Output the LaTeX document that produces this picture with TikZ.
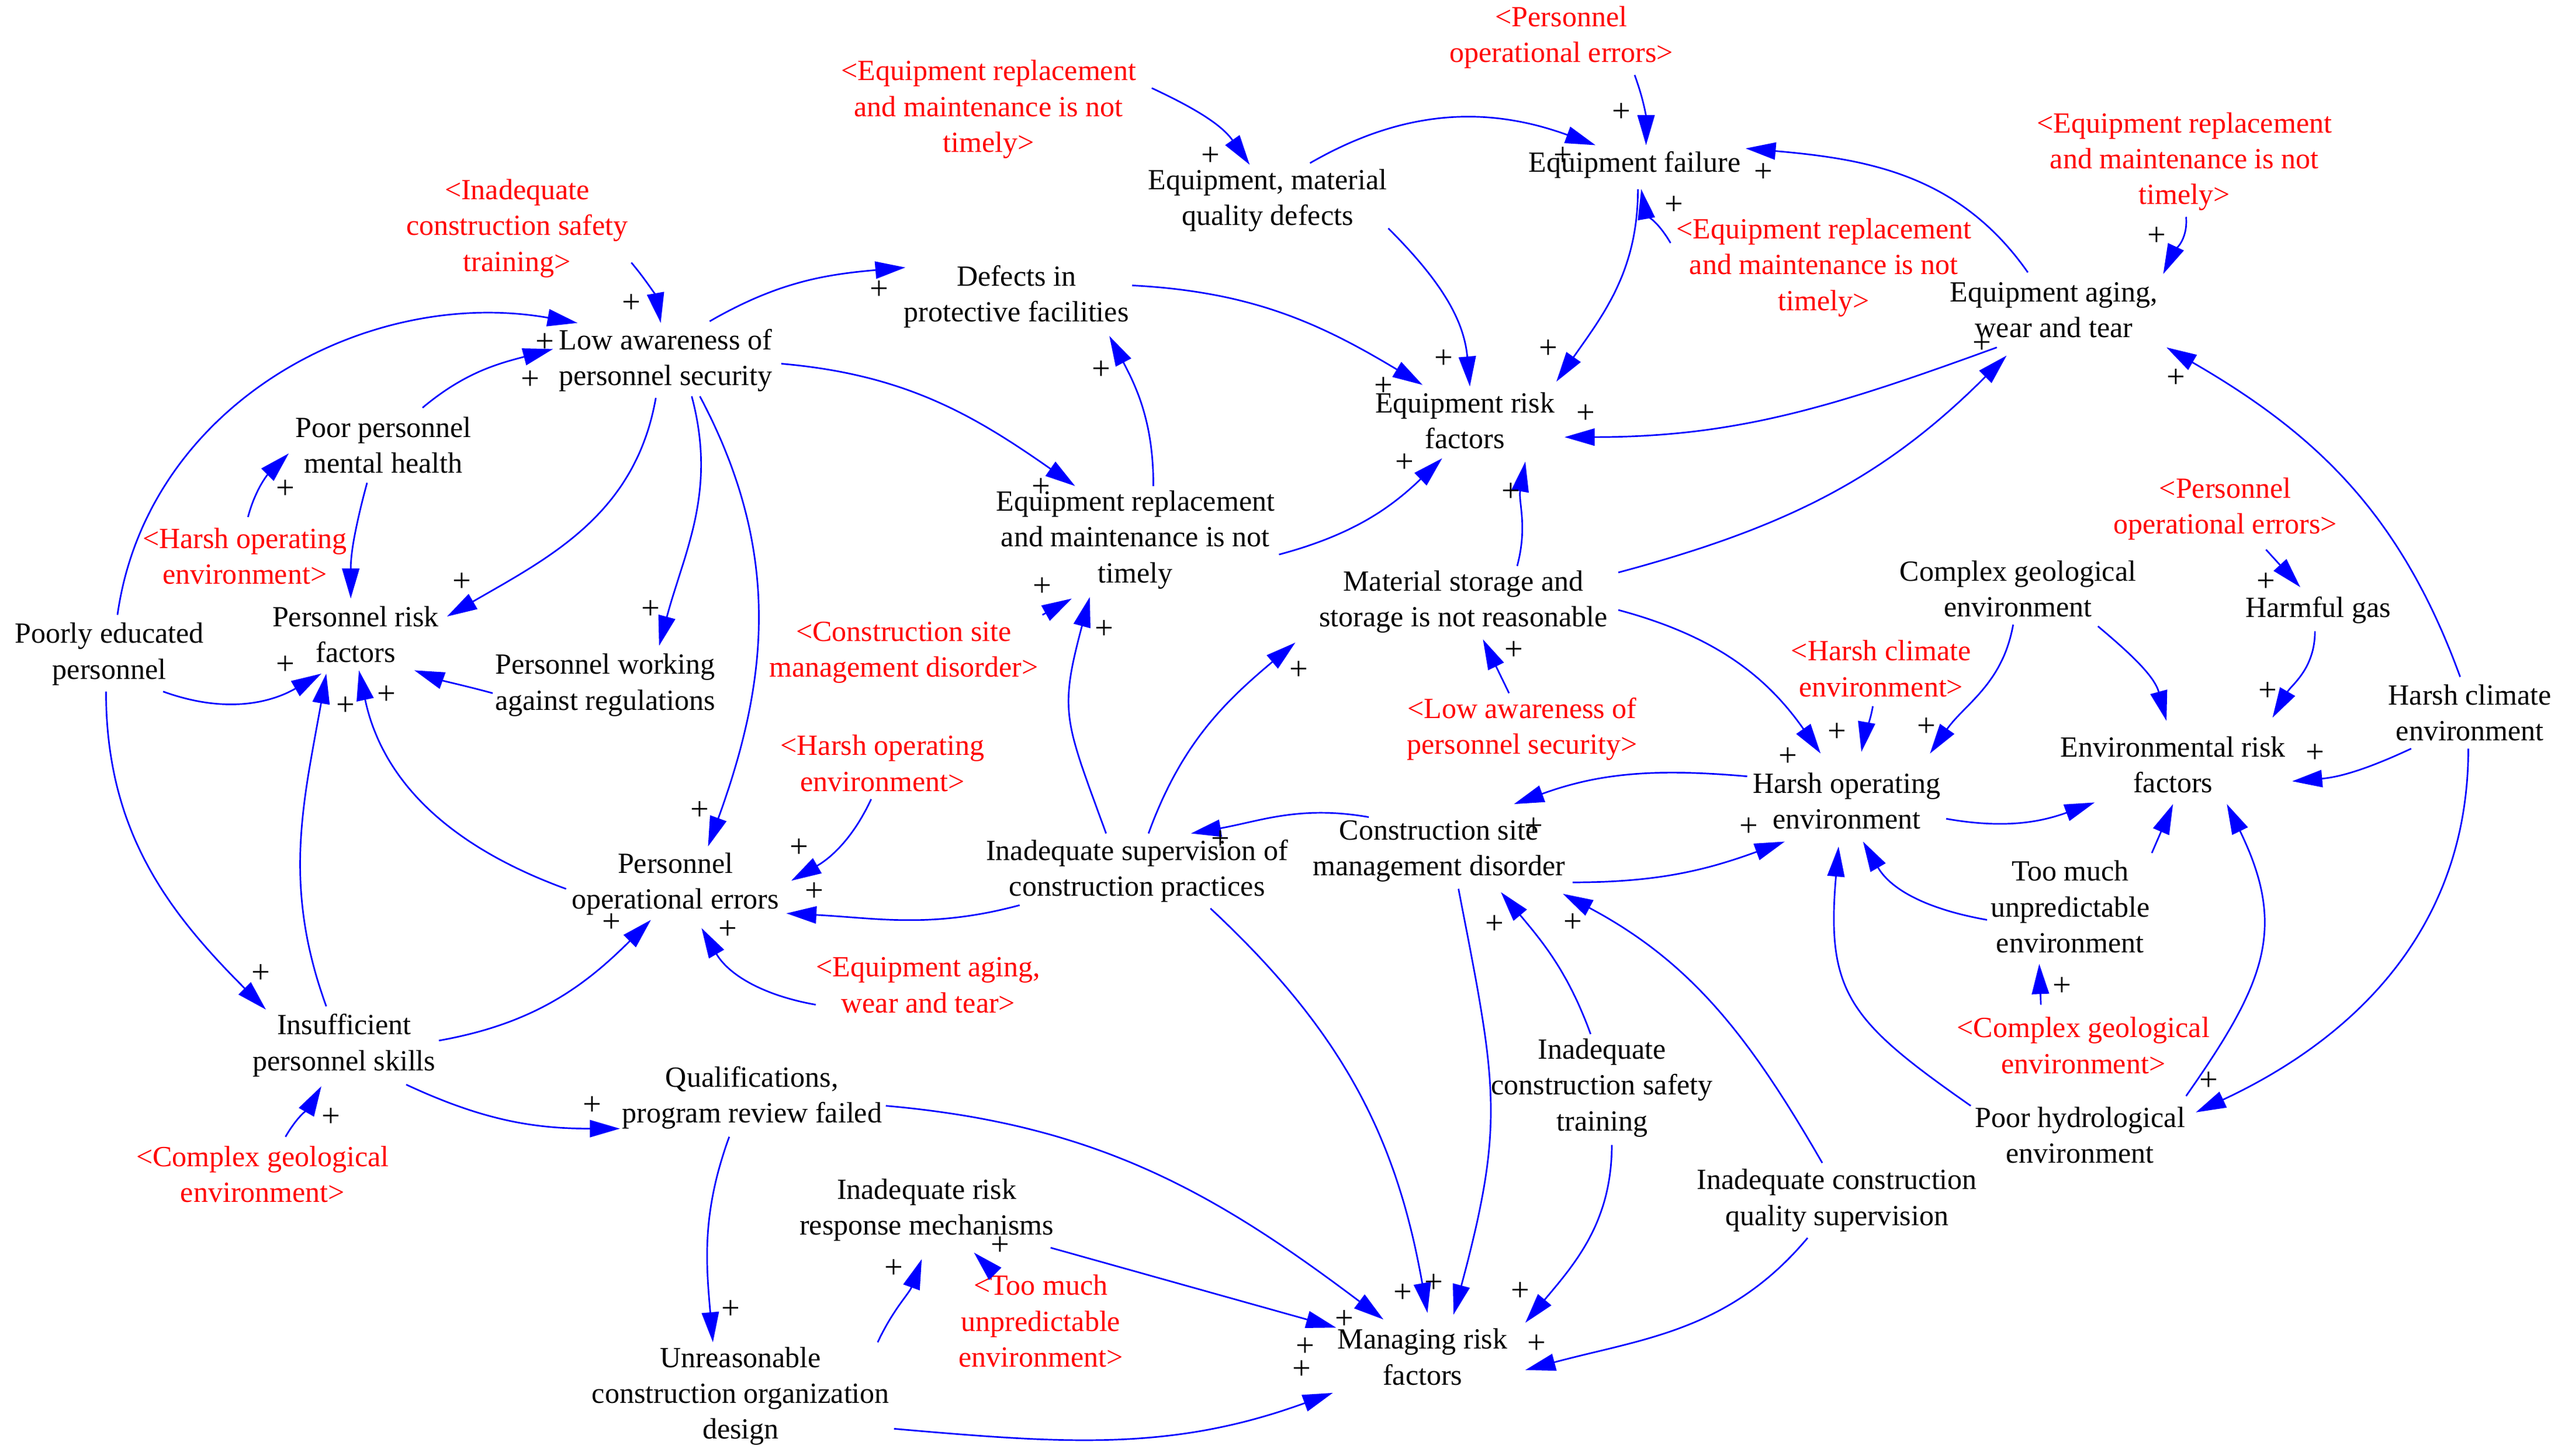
\documentclass[tikz,border=0pt]{standalone}
\usepackage{fontspec}
\setmainfont{Liberation Serif}
\usetikzlibrary{arrows.meta}
\begin{document}
\begin{tikzpicture}[x=0.02cm,y=-0.02cm,
  v/.style={align=center,font=\fontsize{10.2}{12.5}\selectfont,inner sep=0pt,text=black},
  sv/.style={v,text=red},
  pl/.style={font=\fontsize{11.5}{12.5}\selectfont,inner sep=0pt,text=black},
  lnk/.style={draw=blue,line width=0.55pt,-{Triangle[length=10.5pt,width=6pt]}},
]
\useasboundingbox (0,0) rectangle (1568,892.7);
% variables
\node[v] (LAPS) at (408,221) {Low awareness of\\personnel security};
\node[v] (PPMH) at (235,273) {Poor personnel\\mental health};
\node[v] (PRF) at (218,389) {Personnel risk\\factors};
\node[v] (PEP) at (67,401) {Poorly educated\\personnel};
\node[v] (PWAR) at (371,420) {Personnel working\\against regulations};
\node[v] (POE) at (414,542) {Personnel\\operational errors};
\node[v] (IPS) at (211,641) {Insufficient\\personnel skills};
\node[v] (QPR) at (461,673) {Qualifications,\\program review failed};
\node[v] (IRRM) at (568,742) {Inadequate risk\\response mechanisms};
\node[v] (UCOD) at (454,856) {Unreasonable\\construction organization\\design};
\node[v] (MRF) at (872,832) {Managing risk\\factors};
\node[v] (DPF) at (623,182) {Defects in\\protective facilities};
\node[v] (EMQD) at (777,123) {Equipment, material\\quality defects};
\node[v] (EF) at (1002,101) {Equipment failure};
\node[v] (ERF) at (898,258) {Equipment risk\\factors};
\node[v] (ERMNT) at (696,331) {Equipment replacement\\and maintenance is not\\timely};
\node[v] (MSSNR) at (897,369) {Material storage and\\storage is not reasonable};
\node[v] (ISCP) at (697,534) {Inadequate supervision of\\construction practices};
\node[v] (CSMD) at (882,522) {Construction site\\management disorder};
\node[v] (ICST) at (982,667) {Inadequate\\construction safety\\training};
\node[v] (ICQS) at (1126,736) {Inadequate construction\\quality supervision};
\node[v] (EAWT) at (1259,190) {Equipment aging,\\wear and tear};
\node[v] (HOE) at (1132,491) {Harsh operating\\environment};
\node[v] (CGE) at (1237,361) {Complex geological\\environment};
\node[v] (HG) at (1421,374) {Harmful gas};
\node[v] (HCE) at (1514,437) {Harsh climate\\environment};
\node[v] (ENVRF) at (1332,469) {Environmental risk\\factors};
\node[v] (TMUE) at (1269,556) {Too much\\unpredictable\\environment};
\node[v] (PHE) at (1275,696) {Poor hydrological\\environment};
% shadow variables
\node[sv] (R1) at (317,140) {<Inadequate\\construction safety\\training>};
\node[sv] (R2) at (150,341) {<Harsh operating\\environment>};
\node[sv] (R3) at (606,67) {<Equipment replacement\\and maintenance is not\\timely>};
\node[sv] (R4) at (957,23) {<Personnel\\operational errors>};
\node[sv] (R5) at (1118,164) {<Equipment replacement\\and maintenance is not\\timely>};
\node[sv] (R6) at (1339,99) {<Equipment replacement\\and maintenance is not\\timely>};
\node[sv] (R7) at (554,400) {<Construction site\\management disorder>};
\node[sv] (R8) at (541,468) {<Harsh operating\\environment>};
\node[sv] (R9) at (933,447) {<Low awareness of\\personnel security>};
\node[sv] (R10) at (1153,410) {<Harsh climate\\environment>};
\node[sv] (R11) at (1364,312) {<Personnel\\operational errors>};
\node[sv] (R12) at (569,604) {<Equipment aging,\\wear and tear>};
\node[sv] (R13) at (161,720) {<Complex geological\\environment>};
\node[sv] (R14) at (638,810) {<Too much\\unpredictable\\environment>};
\node[sv] (R15) at (1277,641) {<Complex geological\\environment>};
% links
\draw[lnk] ([shift={(70,21)}]R1.center) to[out=-50,in=100] ([shift={(-3,-23)}]LAPS.center);
\draw[lnk] ([shift={(5,-24)}]PEP.center) to[out=82,in=170] ([shift={(-54,-23)}]LAPS.center);
\draw[lnk] ([shift={(24,-23)}]PPMH.center) to[out=40,in=195] ([shift={(-69,-7)}]LAPS.center);
\draw[lnk] ([shift={(-6,23)}]LAPS.center) to[out=-100,in=30] ([shift={(56,-11)}]PRF.center);
\draw[lnk] ([shift={(16,22)}]LAPS.center) to[out=-75,in=75] ([shift={(33,-24)}]PWAR.center);
\draw[lnk] ([shift={(21,22)}]LAPS.center) to[out=-62,in=70] ([shift={(20,-23)}]POE.center);
\draw[lnk] ([shift={(27,-24)}]LAPS.center) to[out=30,in=185] ([shift={(-68,-18)}]DPF.center);
\draw[lnk] ([shift={(71,2)}]LAPS.center) to[out=-5,in=145] ([shift={(-37,-33)}]ERMNT.center);
\draw[lnk] ([shift={(-10,23)}]PPMH.center) to[out=-105,in=90] ([shift={(-3,-22)}]PRF.center);
\draw[lnk] ([shift={(2,-24)}]R2.center) to[out=75,in=225] ([shift={(-58,5)}]PPMH.center);
\draw[lnk] ([shift={(33,23)}]PEP.center) to[out=-20,in=210] ([shift={(-21,24)}]PRF.center);
\draw[lnk] ([shift={(-2,23)}]PEP.center) to[out=-90,in=135] ([shift={(-48,-22)}]IPS.center);
\draw[lnk] ([shift={(-11,-24)}]IPS.center) to[out=110,in=-100] ([shift={(-18,24)}]PRF.center);
\draw[lnk] ([shift={(-67,3)}]POE.center) to[out=160,in=-78] ([shift={(2,22)}]PRF.center);
\draw[lnk] ([shift={(-69,5)}]PWAR.center) to[out=165,in=-20] ([shift={(36,22)}]PRF.center);
\draw[lnk] ([shift={(58,-3)}]IPS.center) to[out=10,in=-135] ([shift={(-15,22)}]POE.center);
\draw[lnk] ([shift={(-72,21)}]ISCP.center) to[out=-165,in=-3] ([shift={(68,18)}]POE.center);
\draw[lnk] ([shift={(-7,22)}]R8.center) to[out=-115,in=30] ([shift={(71,-2)}]POE.center);
\draw[lnk] ([shift={(-69,12)}]R12.center) to[out=170,in=-60] ([shift={(16,27)}]POE.center);
\draw[lnk] ([shift={(14,-23)}]R13.center) to[out=60,in=240] ([shift={(-14,25)}]IPS.center);
\draw[lnk] ([shift={(38,24)}]IPS.center) to[out=-25,in=180] ([shift={(-81,19)}]QPR.center);
\draw[lnk] ([shift={(-14,24)}]QPR.center) to[out=-110,in=95] ([shift={(-17,-33)}]UCOD.center);
\draw[lnk] ([shift={(82,5)}]QPR.center) to[out=-5,in=143] ([shift={(-24,-23)}]MRF.center);
\draw[lnk] ([shift={(76,23)}]IRRM.center) -- ([shift={(-53,-18)}]MRF.center);
\draw[lnk] ([shift={(94,20)}]UCOD.center) to[out=-5,in=200] ([shift={(-55,22)}]MRF.center);
\draw[lnk] ([shift={(84,-33)}]UCOD.center) to[out=65,in=-110] ([shift={(-3,30)}]IRRM.center);
\draw[lnk] ([shift={(-30,-31)}]R14.center) -- ([shift={(29,26)}]IRRM.center);
\draw[lnk] ([shift={(45,23)}]ISCP.center) to[out=-43,in=100] ([shift={(3,-27)}]MRF.center);
\draw[lnk] ([shift={(12,23)}]CSMD.center) to[out=-79,in=75,looseness=1.2] ([shift={(19,-26)}]MRF.center);
\draw[lnk] ([shift={(6,35)}]ICST.center) to[out=-90,in=50] ([shift={(63,-21)}]MRF.center);
\draw[lnk] ([shift={(-18,23)}]ICQS.center) to[out=-130,in=15] ([shift={(63,8)}]MRF.center);
\draw[lnk] ([shift={(-9,-23)}]ICQS.center) to[out=120,in=-28] ([shift={(76,26)}]CSMD.center);
\draw[lnk] ([shift={(-7,-33)}]ICST.center) to[out=110,in=-50] ([shift={(38,25)}]CSMD.center);
\draw[lnk] ([shift={(-43,-21)}]CSMD.center) to[out=170,in=10] ([shift={(33,-23)}]ISCP.center);
\draw[lnk] ([shift={(82,19)}]CSMD.center) to[out=0,in=200] ([shift={(-38,25)}]HOE.center);
\draw[lnk] ([shift={(-61,-15)}]HOE.center) to[out=175,in=20] ([shift={(46,-29)}]CSMD.center);
\draw[lnk] ([shift={(-19,-23)}]ISCP.center) to[out=110,in=-105,looseness=1.3] ([shift={(-28,35)}]ERMNT.center);
\draw[lnk] ([shift={(7,-23)}]ISCP.center) to[out=70,in=220] ([shift={(-103,25)}]MSSNR.center);
\draw[lnk] ([shift={(85,-23)}]R7.center) -- ([shift={(-39,36)}]ERMNT.center);
\draw[lnk] ([shift={(11,-33)}]ERMNT.center) to[out=90,in=-62] ([shift={(57,24)}]DPF.center);
\draw[lnk] ([shift={(88,9)}]ERMNT.center) to[out=15,in=-136] ([shift={(-14,23)}]ERF.center);
\draw[lnk] ([shift={(71,-7)}]DPF.center) to[out=-3,in=149] ([shift={(-26,-22)}]ERF.center);
\draw[lnk] ([shift={(74,17)}]EMQD.center) to[out=-45,in=95] ([shift={(3,-21)}]ERF.center);
\draw[lnk] ([shift={(2,15)}]EF.center) to[out=-90,in=55] ([shift={(56,-24)}]ERF.center);
\draw[lnk] ([shift={(-35,23)}]EAWT.center) to[out=-160,in=0] ([shift={(61,10)}]ERF.center);
\draw[lnk] ([shift={(33,-22)}]MSSNR.center) to[out=75,in=-100] ([shift={(37,25)}]ERF.center);
\draw[lnk] ([shift={(26,-23)}]EMQD.center) to[out=30,in=160] ([shift={(-24,-12)}]EF.center);
\draw[lnk] ([shift={(45,23)}]R4.center) to[out=-70,in=90] ([shift={(7,-12)}]EF.center);
\draw[lnk] ([shift={(100,-13)}]R3.center) to[out=-25,in=125] ([shift={(-11,-22)}]EMQD.center);
\draw[lnk] ([shift={(-94,-15)}]R5.center) to[out=120,in=-80] ([shift={(4,15)}]EF.center);
\draw[lnk] ([shift={(-16,-23)}]EAWT.center) to[out=125,in=-5] ([shift={(68,-10)}]EF.center);
\draw[lnk] ([shift={(1,34)}]R6.center) to[out=-85,in=65] ([shift={(67,-22)}]EAWT.center);
\draw[lnk] ([shift={(95,-18)}]MSSNR.center) to[out=15,in=-135] ([shift={(-29,28)}]EAWT.center);
\draw[lnk] ([shift={(-6,-22)}]HCE.center) to[out=110,in=-30] ([shift={(69,23)}]EAWT.center);
\draw[lnk] ([shift={(95,5)}]MSSNR.center) to[out=-15,in=125] ([shift={(-16,-29)}]HOE.center);
\draw[lnk] ([shift={(-5,23)}]R10.center) to[out=-100,in=80] ([shift={(9,-30)}]HOE.center);
\draw[lnk] ([shift={(-3,22)}]CGE.center) to[out=-100,in=55] ([shift={(51,-29)}]HOE.center);
\draw[lnk] ([shift={(49,23)}]CGE.center) to[out=-40,in=105] ([shift={(-4,-27)}]ENVRF.center);
\draw[lnk] ([shift={(25,25)}]R11.center) -- ([shift={(-11,-14)}]HG.center);
\draw[lnk] ([shift={(-2,13)}]HG.center) to[out=-90,in=60] ([shift={(61,-29)}]ENVRF.center);
\draw[lnk] ([shift={(-36,22)}]HCE.center) to[out=-155,in=5] ([shift={(73,10)}]ENVRF.center);
\draw[lnk] ([shift={(61,11)}]HOE.center) to[out=-10,in=200] ([shift={(-48,23)}]ENVRF.center);
\draw[lnk] ([shift={(50,-33)}]TMUE.center) -- ([shift={(0,24)}]ENVRF.center);
\draw[lnk] ([shift={(65,-24)}]PHE.center) to[out=55,in=-64,looseness=1.2] ([shift={(33,24)}]ENVRF.center);
\draw[lnk] ([shift={(-1,22)}]HCE.center) to[out=-90,in=25] ([shift={(71,-14)}]PHE.center);
\draw[lnk] ([shift={(-51,8)}]TMUE.center) to[out=170,in=-60] ([shift={(10,25)}]HOE.center);
\draw[lnk] ([shift={(-67,-18)}]PHE.center) to[out=145,in=-95,looseness=1.3] ([shift={(-5,28)}]HOE.center);
\draw[lnk] ([shift={(-26,-25)}]R15.center) -- ([shift={(-19,35)}]TMUE.center);
\draw[lnk] ([shift={(-8,-22)}]R9.center) -- ([shift={(12,23)}]MSSNR.center);
% polarity signs
\foreach \px/\py [count=\i] in {387/186,334/210,325/233,175/300,283/357,399/374,175/408,212/433,237/426,
  742/96,994/69,958/96,1026/126,539/178,675/227,885/220,949/214,848/237,972/254,861/284,926/302,638/299,639/360,677/386,928/399,796/411,
  1081/106,1322/145,1215/211,1334/232,1389/357,1390/424,
  429/497,490/520,499/547,375/566,446/570,160/597,203/685,363/678,448/803,
  748/515,940/507,916/567,964/566,548/778,613/764,860/793,879/787,932/792,824/809,800/826,798/840,942/824,
  1126/449,1181/446,1096/464,1419/462,1072/507,1264/605,1354/663}
  \node[pl] (p\i) at (\px,\py) {+};
\end{tikzpicture}
\end{document}
